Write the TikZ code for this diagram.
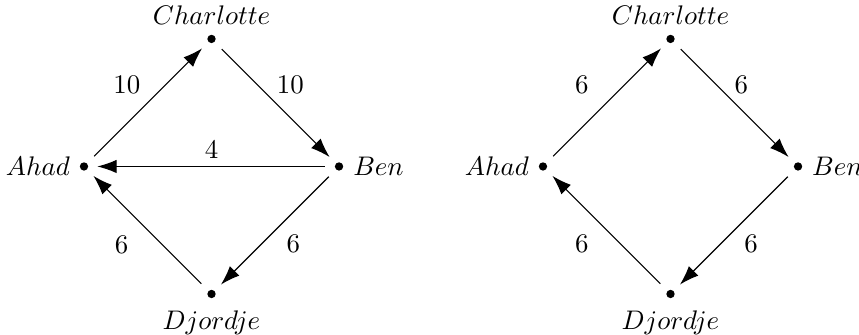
\documentclass[tikz,border=0pt]{standalone}
\usetikzlibrary{arrows.meta}

\begin{document}
\begin{tikzpicture}[
      vert/.style={circle, fill=black, inner sep=0pt, minimum size=3.1pt},
      flow/.style={-{Latex[length=7.2pt,width=5pt]}, shorten <=3.6pt, shorten >=3.2pt}]
    \useasboundingbox (-2.765,-2.203) rectangle (8.464,2.176);

    % first network
    \node[vert, label=left:$Ahad$]       (a1) at (-1.667, 0) {};
    \node[vert, label=above:$Charlotte$] (c1) at (0, 1.667)  {};
    \node[vert, label=right:$Ben$]       (b1) at (1.667, 0)  {};
    \node[vert, label={[label distance=1pt]below:$Djordje$}] (d1) at (0, -1.667) {};

    \draw[flow] (a1) -- node[shift={(-7.8pt,6.7pt)}] {10} (c1);
    \draw[flow] (c1) -- node[shift={(5.6pt,6.7pt)}]  {10} (b1);
    \draw[flow] (b1) -- node[shift={(0pt,6.3pt)}]    {4}  (a1);
    \draw[flow] (b1) -- node[shift={(6.7pt,-5.2pt)}] {6}  (d1);
    \draw[flow] (d1) -- node[shift={(-9.7pt,-5.6pt)}] {6} (a1);

    % second network
    \node[vert, label=left:$Ahad$]       (a2) at (4.333, 0)  {};
    \node[vert, label=above:$Charlotte$] (c2) at (6, 1.667)  {};
    \node[vert, label=right:$Ben$]       (b2) at (7.667, 0)  {};
    \node[vert, label={[label distance=1pt]below:$Djordje$}] (d2) at (6, -1.667) {};

    \draw[flow] (a2) -- node[shift={(-9.3pt,6.7pt)}]  {6} (c2);
    \draw[flow] (c2) -- node[shift={(2.6pt,6.7pt)}]   {6} (b2);
    \draw[flow] (b2) -- node[shift={(6.3pt,-5.2pt)}]  {6} (d2);
    \draw[flow] (d2) -- node[shift={(-9.3pt,-5.2pt)}] {6} (a2);
  \end{tikzpicture}
\end{document}
